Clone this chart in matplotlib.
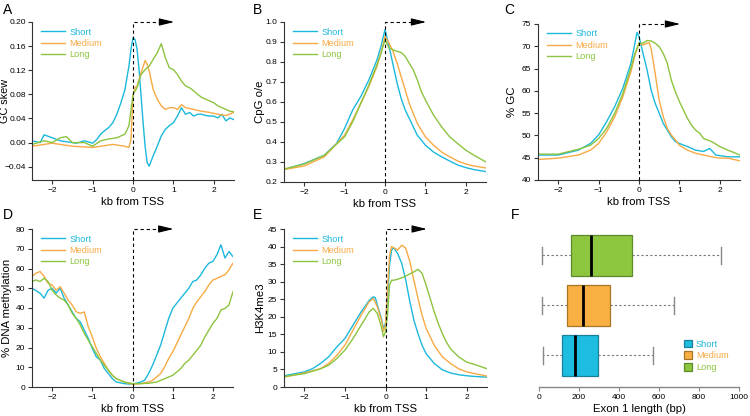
import matplotlib
matplotlib.use("Agg")
import matplotlib.pyplot as plt
from matplotlib.patches import Patch

plt.rcParams['font.family'] = ['Liberation Sans', 'DejaVu Sans']

# ---------------- data ----------------
labels = ["Short", "Medium", "Long"]
colors = ["#1CB8DC", "#F7AA45", "#8CC43F"]
edge_colors = ["#1B7F9A", "#A97524", "#5E8A2C"]
box_fill = ["#1CBDE0", "#F9B043", "#8DC63F"]

# Panel A: GC skew
a_short_x = [-2.5,-2.3,-2.2,-2.0,-1.8,-1.6,-1.4,-1.2,-1.0,-0.9,-0.8,-0.7,-0.6,-0.5,-0.4,-0.3,-0.2,-0.1,-0.05,0.0,0.05,0.1,0.15,0.2,0.25,0.3,0.35,0.4,0.5,0.6,0.7,0.8,0.9,1.0,1.1,1.2,1.3,1.4,1.5,1.6,1.7,1.8,1.9,2.0,2.1,2.2,2.3,2.4,2.5]
a_short_y = [0.003,0.0,0.013,0.008,0.003,0.001,-0.001,0.003,-0.001,0.005,0.014,0.020,0.025,0.033,0.047,0.066,0.088,0.127,0.155,0.174,0.171,0.155,0.121,0.077,0.033,-0.006,-0.033,-0.039,-0.022,-0.006,0.011,0.022,0.028,0.033,0.044,0.058,0.047,0.050,0.044,0.047,0.047,0.045,0.044,0.044,0.041,0.047,0.036,0.041,0.038]
a_medium_x = [-2.5,-2.0,-1.5,-1.0,-0.5,-0.2,-0.1,-0.05,0.0,0.05,0.1,0.2,0.3,0.35,0.4,0.5,0.6,0.7,0.8,0.9,1.0,1.1,1.2,1.3,1.5,1.7,1.9,2.1,2.3,2.5]
a_medium_y = [-0.006,-0.001,-0.006,-0.008,-0.003,-0.006,-0.008,0.005,0.077,0.091,0.094,0.116,0.136,0.130,0.119,0.088,0.072,0.061,0.055,0.058,0.058,0.055,0.063,0.058,0.055,0.052,0.050,0.047,0.045,0.050]
a_long_x = [-2.5,-2.2,-2.0,-1.8,-1.65,-1.5,-1.2,-1.0,-0.8,-0.6,-0.4,-0.2,-0.1,0.0,0.1,0.2,0.3,0.4,0.5,0.6,0.7,0.8,0.9,1.0,1.1,1.2,1.3,1.4,1.5,1.6,1.7,1.8,1.9,2.0,2.1,2.2,2.3,2.4,2.5]
a_long_y = [-0.003,0.003,0.0,0.008,0.010,0.0,0.0,-0.006,0.003,0.006,0.008,0.014,0.028,0.080,0.091,0.113,0.121,0.127,0.138,0.149,0.164,0.141,0.124,0.121,0.113,0.102,0.094,0.091,0.086,0.080,0.075,0.072,0.069,0.066,0.061,0.058,0.055,0.052,0.051]

# Panel B: CpG o/e
b_short_x = [-2.5,-2.0,-1.5,-1.2,-1.0,-0.8,-0.6,-0.4,-0.2,-0.1,0.0,0.1,0.2,0.3,0.4,0.5,0.6,0.7,0.8,0.9,1.0,1.2,1.4,1.6,1.8,2.0,2.2,2.5]
b_short_y = [0.262,0.292,0.334,0.392,0.468,0.560,0.627,0.710,0.810,0.878,0.962,0.878,0.786,0.694,0.618,0.560,0.518,0.476,0.434,0.409,0.384,0.350,0.326,0.305,0.285,0.272,0.262,0.252]
b_medium_x = [-2.5,-2.0,-1.5,-1.0,-0.8,-0.6,-0.4,-0.2,-0.1,0.0,0.1,0.2,0.3,0.4,0.5,0.6,0.7,0.8,0.9,1.0,1.2,1.4,1.6,1.8,2.0,2.2,2.5]
b_medium_y = [0.262,0.280,0.326,0.434,0.510,0.593,0.677,0.777,0.844,0.928,0.895,0.853,0.794,0.727,0.660,0.593,0.543,0.493,0.459,0.426,0.384,0.350,0.326,0.305,0.290,0.280,0.270]
b_long_x = [-2.5,-2.0,-1.5,-1.0,-0.8,-0.6,-0.4,-0.2,-0.1,0.0,0.1,0.2,0.3,0.4,0.5,0.6,0.7,0.8,0.9,1.0,1.2,1.4,1.6,1.8,2.0,2.2,2.5]
b_long_y = [0.265,0.290,0.334,0.426,0.501,0.593,0.685,0.786,0.844,0.911,0.869,0.861,0.853,0.848,0.828,0.794,0.761,0.710,0.652,0.610,0.535,0.476,0.426,0.392,0.359,0.334,0.300]

# Panel C: % GC
c_short_x = [-2.5,-2.0,-1.5,-1.2,-1.0,-0.8,-0.6,-0.4,-0.2,-0.1,-0.05,0.0,0.1,0.2,0.3,0.4,0.5,0.6,0.7,0.8,0.9,1.0,1.2,1.4,1.6,1.75,1.9,2.2,2.5]
c_short_y = [45.6,45.6,46.7,48.2,50.1,53.1,56.5,60.6,66.2,70.7,73.1,72.2,68.4,64.7,60.2,57.2,55.0,52.7,51.2,49.7,48.6,48.2,47.5,46.7,46.4,47.1,45.6,45.2,45.2]
c_medium_x = [-2.5,-2.0,-1.5,-1.2,-1.0,-0.8,-0.6,-0.4,-0.2,-0.1,0.0,0.1,0.2,0.25,0.3,0.4,0.5,0.6,0.7,0.8,0.9,1.0,1.2,1.4,1.6,1.8,2.0,2.2,2.5]
c_medium_y = [44.6,44.9,45.6,46.7,48.2,50.8,54.2,58.7,64.3,68.0,70.7,70.3,70.7,70.8,69.5,63.9,57.9,54.2,51.6,50.1,49.0,47.8,46.7,46.0,45.6,45.2,44.9,44.9,44.3]
c_long_x = [-2.5,-2.0,-1.5,-1.2,-1.0,-0.8,-0.6,-0.4,-0.2,-0.1,0.0,0.1,0.2,0.3,0.4,0.5,0.6,0.7,0.8,0.9,1.0,1.1,1.2,1.3,1.4,1.5,1.6,1.8,2.0,2.2,2.5]
c_long_y = [45.8,45.8,46.9,47.8,49.3,51.6,55.0,59.4,65.1,68.4,70.7,70.7,71.3,71.2,70.7,69.9,68.4,66.2,62.4,59.8,57.6,55.7,53.8,52.3,51.2,50.5,49.3,48.6,47.5,46.7,45.6]

# Panel D: % DNA methylation
d_short_x = [-2.5,-2.3,-2.2,-2.1,-2.0,-1.9,-1.8,-1.7,-1.6,-1.5,-1.4,-1.3,-1.2,-1.1,-1.0,-0.9,-0.8,-0.7,-0.6,-0.5,-0.4,-0.2,0.0,0.2,0.3,0.4,0.5,0.6,0.7,0.8,0.9,1.0,1.1,1.2,1.3,1.4,1.5,1.6,1.7,1.8,1.9,2.0,2.1,2.2,2.3,2.4,2.5]
d_short_y = [50.0,47.5,45.0,49.0,50.0,47.5,50.0,45.0,41.5,38.0,34.7,33.0,28.8,24.6,19.5,15.3,13.6,9.3,6.8,4.2,2.5,1.7,1.4,2.5,3.4,6.8,11.0,16.1,21.2,28.0,34.7,39.8,42.4,45.0,47.5,50.0,53.4,54.2,56.8,60.2,62.7,63.6,67.0,72.0,65.3,68.6,66.0]
d_medium_x = [-2.5,-2.4,-2.3,-2.2,-2.1,-2.0,-1.9,-1.8,-1.7,-1.6,-1.5,-1.4,-1.3,-1.2,-1.1,-1.0,-0.9,-0.8,-0.7,-0.6,-0.5,-0.4,-0.2,0.0,0.2,0.4,0.5,0.6,0.7,0.8,0.9,1.0,1.1,1.2,1.3,1.4,1.5,1.6,1.7,1.8,1.9,2.0,2.1,2.2,2.3,2.4,2.5]
d_medium_y = [56.0,57.6,58.5,56.0,52.5,51.7,49.0,50.8,47.5,44.0,41.5,38.1,37.3,38.0,30.5,25.4,19.5,15.3,11.9,8.5,5.9,4.2,2.5,1.4,1.7,2.5,3.4,5.1,6.8,10.2,14.4,17.8,22.0,26.3,30.5,34.7,39.8,43.2,45.8,48.3,51.7,54.2,55.0,56.0,56.8,59.3,62.7]
d_long_x = [-2.5,-2.4,-2.3,-2.2,-2.1,-2.0,-1.9,-1.8,-1.7,-1.6,-1.5,-1.4,-1.3,-1.2,-1.1,-1.0,-0.9,-0.8,-0.7,-0.6,-0.5,-0.4,-0.2,0.0,0.2,0.4,0.6,0.7,0.8,0.9,1.0,1.1,1.2,1.3,1.4,1.5,1.6,1.7,1.8,1.9,2.0,2.1,2.2,2.3,2.4,2.5]
d_long_y = [53.4,54.2,53.4,55.0,53.4,49.0,46.6,45.0,44.0,41.5,37.3,34.7,31.4,27.1,23.7,20.3,16.9,13.6,11.0,8.5,5.9,4.2,2.5,1.7,1.7,1.9,2.5,3.4,4.2,5.1,5.9,7.6,9.3,11.9,13.6,16.1,18.6,21.2,25.4,28.8,32.2,34.7,39.0,39.8,41.5,48.3]

# Panel E: H3K4me3
e_short_x = [-2.5,-2.0,-1.8,-1.6,-1.4,-1.2,-1.0,-0.8,-0.6,-0.4,-0.3,-0.25,-0.2,-0.1,-0.05,0.0,0.05,0.1,0.15,0.2,0.3,0.4,0.5,0.6,0.7,0.8,0.9,1.0,1.2,1.4,1.6,1.8,2.0,2.2,2.5]
e_short_y = [3.2,4.3,5.2,6.7,8.6,11.4,13.8,17.6,21.4,24.7,25.7,25.4,23.3,19.5,16.7,18.1,25.2,34.7,39.0,39.7,38.0,35.2,30.4,24.3,19.0,15.2,11.9,9.5,6.7,4.9,4.0,3.5,3.2,3.0,2.8]
e_medium_x = [-2.5,-2.0,-1.6,-1.4,-1.2,-1.0,-0.8,-0.6,-0.4,-0.3,-0.2,-0.1,-0.05,0.0,0.05,0.1,0.15,0.2,0.3,0.4,0.5,0.6,0.7,0.8,0.9,1.0,1.2,1.4,1.6,1.8,2.0,2.2,2.5]
e_medium_y = [2.8,4.0,5.2,6.7,9.0,11.9,16.2,20.5,24.3,25.2,22.8,19.0,15.9,17.6,28.1,37.6,40.0,39.7,39.0,40.4,39.5,35.7,30.4,25.2,20.5,16.7,11.9,8.6,6.7,5.2,4.3,3.8,3.1]
e_long_x = [-2.5,-2.0,-1.6,-1.4,-1.2,-1.0,-0.8,-0.6,-0.4,-0.3,-0.2,-0.1,-0.05,0.0,0.05,0.1,0.15,0.2,0.3,0.4,0.5,0.6,0.7,0.8,0.9,1.0,1.1,1.2,1.3,1.4,1.5,1.6,1.8,2.0,2.2,2.5]
e_long_y = [3.0,3.8,5.2,6.2,8.1,10.5,13.8,17.6,21.4,22.4,20.9,17.1,14.3,15.7,20.5,29.0,30.4,30.4,30.7,31.1,31.6,32.2,32.8,33.5,32.4,29.0,25.2,21.4,18.1,15.2,12.8,10.9,8.6,7.1,6.4,5.2]

# Panel F: exon 1 length box stats (low whisker, Q1, median, Q3, high whisker)
f_short = [20, 114, 180, 297, 572]
f_medium = [15, 141, 222, 353, 673]
f_long = [16, 160, 261, 466, 910]

# ---------------- figure ----------------
W, H = 750, 416
fig = plt.figure(figsize=(7.5, 4.16), dpi=100)

def ax_px(l, r, t, b):
    ax = fig.add_axes([l / W, (H - b) / H, (r - l) / W, (b - t) / H])
    ax._px = (l, r, t, b)
    return ax

TICK_FS = 6
LABEL_FS = 8.2
LEG_FS = 6.6
LW = 1.0

def style(ax):
    for s in ["top", "right"]:
        ax.spines[s].set_visible(False)
    for s in ["left", "bottom"]:
        ax.spines[s].set_linewidth(0.8)
        ax.spines[s].set_color("#333333")
    ax.tick_params(labelsize=TICK_FS, length=3, width=0.8, color="#333333", pad=2)

def tss_arrow(ax, ymin, ymax):
    ax.plot([0, 0, 0.72], [ymin, ymax, ymax], color="black", lw=0.8,
            ls=(0, (3, 2.5)), clip_on=False, zorder=5)
    ax.annotate("", xy=(1.02, ymax), xytext=(0.68, ymax),
                arrowprops=dict(arrowstyle="-|>,head_length=0.9,head_width=0.22",
                                color="black", lw=0.8, shrinkA=0, shrinkB=0),
                annotation_clip=False, zorder=6)

def line_panel(ax, series, ylim, yticks, yfmt, ylabel, ylabel_px, ylabel_fs=LABEL_FS):
    for (xs, ys), c, lab in zip(series, colors, labels):
        ax.plot(xs, ys, color=c, lw=LW, label=lab)
    ax.set_xlim(-2.5, 2.5)
    ax.set_ylim(*ylim)
    ax.set_xticks([-2, -1, 0, 1, 2])
    ax.set_yticks(yticks)
    ax.set_xticklabels(["\u22122", "\u22121", "0", "1", "2"])
    ax.set_yticklabels([yfmt.format(v).replace("-", "\u2212") for v in yticks])
    ax.set_xlabel("kb from TSS", fontsize=LABEL_FS, labelpad=2)
    ax.set_ylabel(ylabel, fontsize=ylabel_fs, va="center")
    l, r, t, b = ax._px
    ax.yaxis.set_label_coords((ylabel_px - l) / (r - l), 0.5)
    style(ax)
    tss_arrow(ax, ylim[0], ylim[1])
    ax.legend(loc="upper left", bbox_to_anchor=(0.045, 0.965), frameon=False,
              fontsize=LEG_FS, handlelength=2.6, handletextpad=0.5,
              labelspacing=0.25, borderpad=0, borderaxespad=0,
              labelcolor="linecolor")

axA = ax_px(32, 234, 22, 180)
line_panel(axA, [(a_short_x, a_short_y), (a_medium_x, a_medium_y), (a_long_x, a_long_y)],
           (-0.062, 0.20), [-0.04, 0.0, 0.04, 0.08, 0.12, 0.16, 0.20], "{:.2f}", "GC skew", 5.2, 7.8)
axA.tick_params(axis="y", pad=1.5)

axB = ax_px(284, 486, 22, 182)
line_panel(axB, [(b_short_x, b_short_y), (b_medium_x, b_medium_y), (b_long_x, b_long_y)],
           (0.2, 1.0), [0.2, 0.3, 0.4, 0.5, 0.6, 0.7, 0.8, 0.9, 1.0], "{:.1f}", "CpG o/e", 260)

axC = ax_px(538, 740, 24, 180)
line_panel(axC, [(c_short_x, c_short_y), (c_medium_x, c_medium_y), (c_long_x, c_long_y)],
           (40, 75), [40, 45, 50, 55, 60, 65, 70, 75], "{:d}", "% GC", 512)

axD = ax_px(32, 233, 229, 387)
line_panel(axD, [(d_short_x, d_short_y), (d_medium_x, d_medium_y), (d_long_x, d_long_y)],
           (0, 80), [0, 10, 20, 30, 40, 50, 60, 70, 80], "{:d}", "% DNA methylation", 7)

axE = ax_px(284, 487, 229, 387)
line_panel(axE, [(e_short_x, e_short_y), (e_medium_x, e_medium_y), (e_long_x, e_long_y)],
           (0, 45), [0, 5, 10, 15, 20, 25, 30, 35, 40, 45], "{:d}", "H3K4me3", 260)

# Panel F
axF = ax_px(537, 741, 229, 387)
stats = []
for vals, lab in zip([f_short, f_medium, f_long], labels):
    lo, q1, med, q3, hi = vals
    stats.append(dict(whislo=lo, q1=q1, med=med, q3=q3, whishi=hi, fliers=[], label=lab))
bp = axF.bxp(stats, positions=[1, 2, 3], widths=0.82, vert=False, patch_artist=True,
             showfliers=False, capwidths=0.34,
             whiskerprops=dict(color="#777777", lw=0.8, ls=(0, (2, 2))),
             capprops=dict(color="#888888", lw=1.0),
             medianprops=dict(color="black", lw=2.0))
for patch, fc, ec in zip(bp["boxes"], box_fill, edge_colors):
    patch.set_facecolor(fc)
    patch.set_edgecolor(ec)
    patch.set_linewidth(0.9)
axF.set_xlim(-10, 1010)
axF.set_ylim(0.36, 3.52)
axF.set_yticks([])
axF.set_xticks([0, 200, 400, 600, 800, 1000])
for s in ["top", "right", "left"]:
    axF.spines[s].set_visible(False)
axF.spines["bottom"].set_color("#888888")
axF.spines["bottom"].set_linewidth(1.0)
axF.spines["bottom"].set_bounds(0, 1000)
axF.tick_params(axis="x", labelsize=TICK_FS, length=3, width=0.8, color="#888888", pad=2)
axF.set_xlabel("Exon 1 length (bp)", fontsize=LABEL_FS, labelpad=2)
handles = [Patch(facecolor=fc, edgecolor=ec, lw=0.9, label=lab)
           for fc, ec, lab in zip(box_fill, edge_colors, labels)]
leg = axF.legend(handles=handles, loc="upper left", bbox_to_anchor=(0.72, 0.30),
                 frameon=False, fontsize=LEG_FS, handlelength=0.9, handleheight=0.9,
                 handletextpad=0.4, labelspacing=0.3, borderpad=0, borderaxespad=0)
for t, c in zip(leg.get_texts(), colors):
    t.set_color(c)

# panel letters
for letter, x, y in [("A", 3, 3), ("B", 253, 3), ("C", 504, 3),
                     ("D", 3, 208), ("E", 253, 208), ("F", 511, 208)]:
    fig.text(x / W, 1 - y / H, letter, fontsize=10, va="top", ha="left")

fig.savefig("out.png", dpi=100)
